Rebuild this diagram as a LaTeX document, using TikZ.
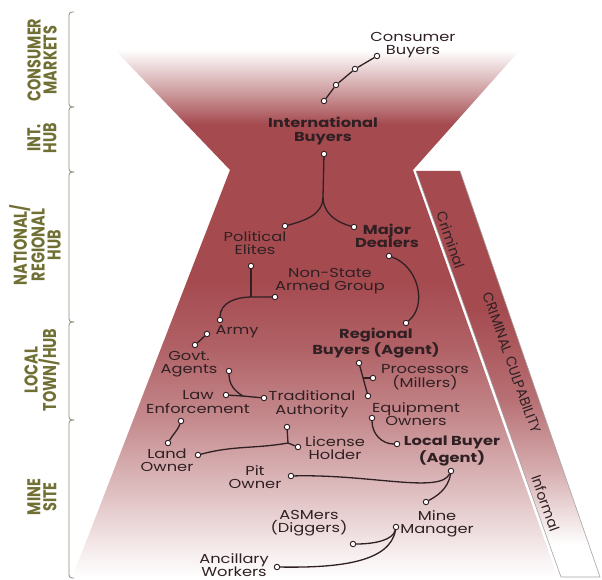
\documentclass[tikz,border=0pt]{standalone}
\usepackage{fontspec}
\setmainfont{Poppins}[FakeStretch=1.25]
\newfontfamily\tierfont{Poppins}[FakeStretch=0.78]
\newfontfamily\bandfont{Poppins}
\usetikzlibrary{positioning}

\definecolor{funnelred}{RGB}{165,75,80}
\definecolor{inkdark}{RGB}{48,32,35}
\definecolor{tierolive}{RGB}{112,112,52}
\definecolor{bracegray}{RGB}{140,140,115}

\pgfdeclareverticalshading{funnelshade}{100bp}{color(0bp)=(white); color(25bp)=(white); color(27bp)=(funnelred!8); color(33bp)=(funnelred!35); color(40bp)=(funnelred!65); color(47bp)=(funnelred!88); color(53bp)=(funnelred); color(68bp)=(funnelred); color(71bp)=(funnelred!55); color(75bp)=(white); color(100bp)=(white)}
\pgfdeclareverticalshading{bandshade}{100bp}{color(0bp)=(white); color(29bp)=(white); color(38bp)=(funnelred!45); color(47bp)=(funnelred!80); color(58bp)=(funnelred); color(100bp)=(funnelred)}

\tikzset{
  dot/.style={circle,draw=inkdark,fill=white,line width=0.9pt,inner sep=0pt,minimum size=5.5pt},
  actor/.style={text=inkdark,align=center,inner sep=0pt,font=\fontsize{13}{13.5}\selectfont},
  keyactor/.style={actor,font=\fontsize{13}{13.5}\selectfont\bfseries},
  tier/.style={text=tierolive,align=center,rotate=90,inner sep=0pt,font=\tierfont\fontsize{18.5}{16}\selectfont\bfseries},
  bandlabel/.style={text=inkdark,rotate=-70.3,inner sep=0pt,font=\bandfont\fontsize{14}{14}\selectfont},
  link/.style={draw=inkdark,line width=1.3pt},
  tierbrace/.style={draw=bracegray,line width=0.8pt,rounded corners=3pt}
}

\begin{document}
\begin{tikzpicture}[x=1pt,y=-1pt]
\useasboundingbox (0,0) rectangle (602,580);

% funnel and culpability band
\shade[shading=funnelshade] (115,50) -- (520,50) -- (413,170) -- (558,578) -- (72,578) -- (230,170) -- cycle;
\shade[shading=bandshade] (416,171) -- (460,171) -- (600,577) -- (561,577) -- cycle;
\draw[gray!70,line width=0.6pt] (460,171) -- (600,577) -- (561,577) -- (416,171);

\node[bandlabel] (crim) at (451,240) {Criminal};
\node[bandlabel] (culp) at (512,363) {CRIMINAL CULPABILITY};
\node[bandlabel] (info) at (546,503) {Informal};

% tiers
\foreach \a/\b in {12/107,107/172,172/322,322/420,420/578}
  \draw[tierbrace] (74,\a) -- (69,\a) -- (69,\b) -- (74,\b);
\node[tier] (cmkt) at (42,60) {CONSUMER\\MARKETS};
\node[tier] (ihub) at (42,138) {INT.\\HUB};
\node[tier] (nhub) at (35,245) {NATIONAL/\\REGIONAL\\HUB};
\node[tier] (lhub) at (42,370) {LOCAL\\TOWN/HUB};
\node[tier] (mine) at (42,497) {MINE\\SITE};

% actors
\node[actor] (cbuy) at (413,45) {Consumer\\Buyers};
\node[keyactor] (ibuy) at (323,131) {International\\Buyers};
\node[actor] (polel) at (255,243) {Political\\Elites};
\node[keyactor] (mdeal) at (387,236) {Major\\Dealers};
\node[actor] (nsag) at (330,281) {Non-State\\Armed Group};
\node[actor] (army) at (237,332) {Army};
\node[actor] (govt) at (189,364) {Govt.\\Agents};
\node[actor] (lawe) at (198,402) {Law\\Enforcement};
\node[actor] (trad) at (312,404) {Traditional\\Authority};
\node[keyactor] (rbuy) at (376,343) {Regional\\Buyers (Agent)};
\node[actor] (proc) at (425,377) {Processors\\(Millers)};
\node[actor] (equip) at (416,414) {Equipment\\Owners};
\node[actor] (land) at (167,460) {Land\\Owner};
\node[actor] (lic) at (335,448) {License\\Holder};
\node[keyactor] (lbuy) at (452,451) {Local Buyer\\(Agent)};
\node[actor] (pit) at (255,477) {Pit\\Owner};
\node[actor] (mman) at (437,524) {Mine\\Manager};
\node[actor] (asm) at (309,523) {ASMers\\(Diggers)};
\node[actor] (anc) at (234,565) {Ancillary\\Workers};

% dots
\foreach \n/\x/\y in {c1/377/56, c2/355/69, c3/336/85, c4/324/101, ib/324/154,
  pe1/285/226, md1/354/227, md2/389/256, rb1/406/323, pe2/251/266, ns/275/297,
  ar1/220/320, ar2/207/334, ga1/195/345, ga2/229/371, le1/226/395, ta1/264/398,
  le2/181/421, lo1/168/443, lo2/198/455, ta2/287/427, lh/298/447, rb2/359/363,
  pm/373/378, eo1/368/396, eo2/372/418, lb1/397/444, lb2/451/471, po/291/476,
  mm1/426/502, mm2/396/527, as/353/544, aw/277/567}
  \node[dot] (\n) at (\x,\y) {};

\coordinate (j1) at (323,197);
\coordinate (j2) at (251,297);
\coordinate (j3) at (243,396);
\coordinate (j4) at (288,443);
\coordinate (j5) at (363,378);

% links
\draw[link] (c1) -- (c2) -- (c3) -- (c4);
\draw[link] (ib) -- (j1) to[out=-90,in=15] (pe1);
\draw[link] (j1) to[out=-90,in=165] (md1);
\draw[link] (md2) .. controls (418,266) and (428,305) .. (rb1);
\draw[link] (pe2) -- (j2);
\draw[link] (ns) -- (j2) to[out=180,in=90] (ar1);
\draw[link] (ar2) -- (ga1);
\draw[link] (le1) -- (j3) -- (ta1);
\draw[link] (ga2) to[out=-90,in=150] (j3);
\draw[link] (le2) to[out=-110,in=60] (lo1);
\draw[link] (ta2) -- (j4) -- (lh);
\draw[link] (lo2) to[out=15,in=190] (j4);
\draw[link] (rb2) -- (eo1);
\draw[link] (j5) -- (pm);
\draw[link] (eo2) to[out=-90,in=180] (lb1);
\draw[link] (po) .. controls (370,474) and (440,494) .. (lb2);
\draw[link] (lb2) .. controls (448,490) and (435,497) .. (mm1);
\draw[link] (mm2) .. controls (393,540) and (375,544) .. (as);
\draw[link] (mm2) .. controls (390,562) and (340,568) .. (aw);
\end{tikzpicture}
\end{document}
